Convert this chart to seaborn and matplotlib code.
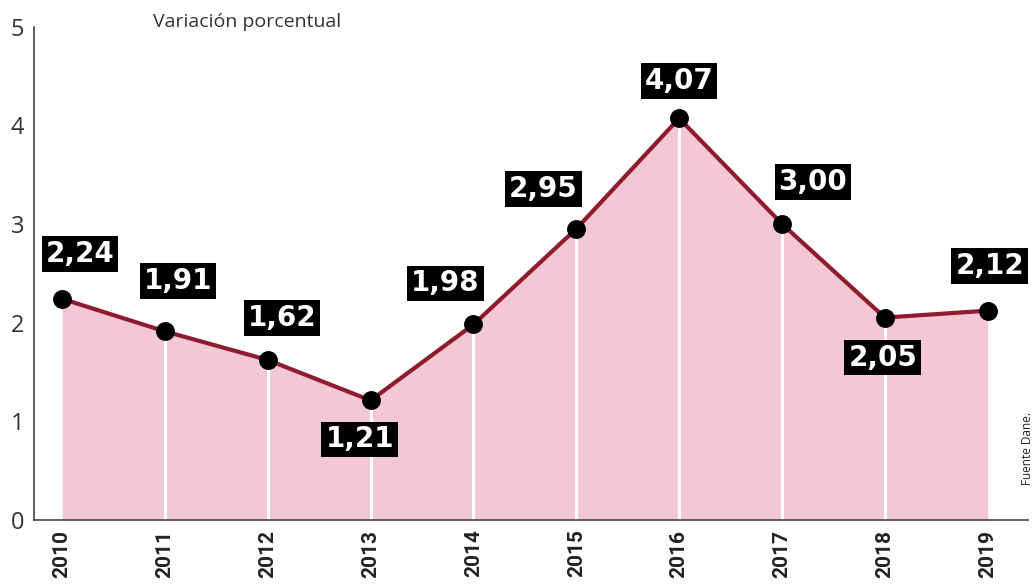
import matplotlib
matplotlib.use("Agg")
import matplotlib.pyplot as plt
import seaborn as sns
import pandas as pd

# datos: variación porcentual anual (Fuente Dane)
years = [2010, 2011, 2012, 2013, 2014, 2015, 2016, 2017, 2018, 2019]
values = [2.24, 1.91, 1.62, 1.21, 1.98, 2.95, 4.07, 3.00, 2.05, 2.12]
labels = ["2,24", "1,91", "1,62", "1,21", "1,98", "2,95", "4,07", "3,00", "2,05", "2,12"]
y_ticks = [0, 1, 2, 3, 4, 5]

# desplazamiento de cada etiqueta respecto a su punto (pixeles)
label_offsets = [(18, 45), (13, 50), (14, 42), (-11, -39), (-28, 41),
                 (-33, 40), (0, 37), (31, 42), (-2, -40), (2, 45)]

df = pd.DataFrame({"year": years, "value": values})

sns.set_theme(style="white")
plt.rcParams["font.family"] = ["Open Sans", "DejaVu Sans"]

fig = plt.figure(figsize=(10.35, 5.86), dpi=100)
ax = fig.add_axes([0.033, 0.113, 0.96, 0.845])

line_col = "#8e1b2e"
fill_col = "#f3c7d3"

ax.fill_between(df["year"], 0, df["value"], color=fill_col, lw=0, zorder=1)
ax.vlines(df["year"][1:-1], 0, df["value"][1:-1], color="white", lw=2.2, zorder=2)
sns.lineplot(data=df, x="year", y="value", ax=ax, color=line_col, lw=3, zorder=3)
ax.scatter(df["year"], df["value"], s=185, color="black", zorder=4, lw=0)

for x, y, lab, (dx, dy) in zip(years, values, labels, label_offsets):
    ax.annotate(lab, (x, y), xytext=(dx, dy), textcoords="offset pixels",
                ha="center", va="center", color="white", fontsize=20,
                fontweight="bold", family=["DejaVu Sans"],
                bbox=dict(boxstyle="square,pad=0.14", fc="black", ec="none"),
                zorder=5)

ax.set_xlim(2009.728, 2019.39)
ax.set_ylim(0, 5.02)
ax.set_yticks(y_ticks)
ax.set_yticklabels([str(t) for t in y_ticks], fontsize=17, color="#333333")
ax.set_xticks(years)
ax.set_xticklabels([str(y) for y in years], rotation=90, fontsize=15,
                   fontweight="bold", color="#222222",
                   family=["Roboto", "DejaVu Sans"])
ax.tick_params(axis="both", length=0)
ax.tick_params(axis="y", pad=7)
ax.tick_params(axis="x", pad=7)
ax.set_xlabel("")
ax.set_ylabel("")

for side in ["top", "right"]:
    ax.spines[side].set_visible(False)
ax.spines["left"].set_color("#444444")
ax.spines["bottom"].set_color("#444444")
ax.spines["left"].set_linewidth(1.2)
ax.spines["bottom"].set_linewidth(1.2)
ax.spines["left"].set_bounds(0, 5)

fig.text(0.148, 0.962, "Variación porcentual", fontsize=14, color="#333333",
         ha="left", va="center")
fig.text(0.993, 0.235, "Fuente Dane.", fontsize=8.5, color="#222222",
         rotation=90, ha="center", va="center")

fig.savefig("out.png", dpi=100)
